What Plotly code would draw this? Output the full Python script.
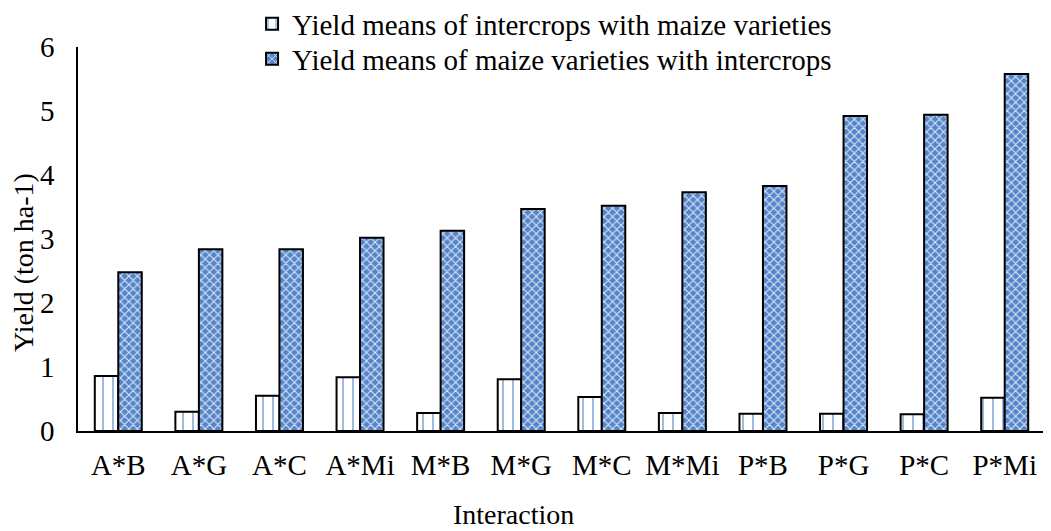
import plotly.graph_objects as go

categories = ["A*B", "A*G", "A*C", "A*Mi", "M*B", "M*G", "M*C", "M*Mi", "P*B", "P*G", "P*C", "P*Mi"]
intercrop_yield = [0.86, 0.30, 0.55, 0.84, 0.28, 0.81, 0.53, 0.28, 0.27, 0.27, 0.26, 0.52]
maize_yield = [2.48, 2.84, 2.84, 3.02, 3.13, 3.47, 3.52, 3.73, 3.83, 4.92, 4.94, 5.58]
series_names = ["Yield means of intercrops with maize varieties",
                "Yield means of maize varieties with intercrops"]
y_ticks = [0, 1, 2, 3, 4, 5, 6]

font_family = "Liberation Serif, Times New Roman, serif"
FS = 29

fig = go.Figure()
fig.add_trace(go.Bar(
    x=categories, y=intercrop_yield, name=series_names[0], legend="legend",
    marker=dict(color="white", line=dict(color="black", width=2),
                pattern=dict(shape="|", fgcolor="#7AA3DC", bgcolor="white",
                             size=10, solidity=0.15, fillmode="replace")),
))
fig.add_trace(go.Bar(
    x=categories, y=maize_yield, name=series_names[1], legend="legend2",
    marker=dict(color="#5585C9", line=dict(color="black", width=2),
                pattern=dict(shape="x", fgcolor="#DCE6F5", bgcolor="#5585C9",
                             size=6, solidity=0.32, fillmode="replace")),
))

legend_common = dict(xanchor="left", yanchor="middle", orientation="v",
                     bgcolor="rgba(0,0,0,0)", font=dict(family=font_family, size=FS),
                     itemwidth=30, borderwidth=0)

fig.update_layout(
    width=1043, height=523,
    margin=dict(l=70, r=6, t=39, b=100, autoexpand=False),
    paper_bgcolor="white", plot_bgcolor="white",
    font=dict(family=font_family, size=FS, color="black"),
    barmode="group", bargap=0.417, bargroupgap=0,
    showlegend=True,
    legend=dict(x=0.18, y=1 + (47 - 24) / 384, **legend_common),
    legend2=dict(x=0.18, y=1 + (47 - 59) / 384, **legend_common),
    xaxis=dict(showline=True, linecolor="black", linewidth=2, ticks="",
               showgrid=False, tickfont=dict(size=FS), automargin=False,
               ticklabelstandoff=7),
    yaxis=dict(range=[0, 6], tickvals=y_ticks, showline=True, linecolor="black",
               linewidth=1.5, ticks="", showgrid=False, zeroline=False,
               automargin=False, tickfont=dict(size=FS), ticklabelstandoff=16),
    annotations=[
        dict(text="Yield (ton ha-1)", textangle=-90, xref="paper", yref="paper",
             x=-0.057, y=0.44, xanchor="center", yanchor="middle",
             showarrow=False, font=dict(size=28, family=font_family)),
        dict(text="Interaction", xref="paper", yref="paper",
             x=0.45, y=-(514 - 431) / 384, xanchor="center", yanchor="middle",
             showarrow=False, font=dict(size=28, family=font_family)),
    ],
)

fig.write_html("out.html")
